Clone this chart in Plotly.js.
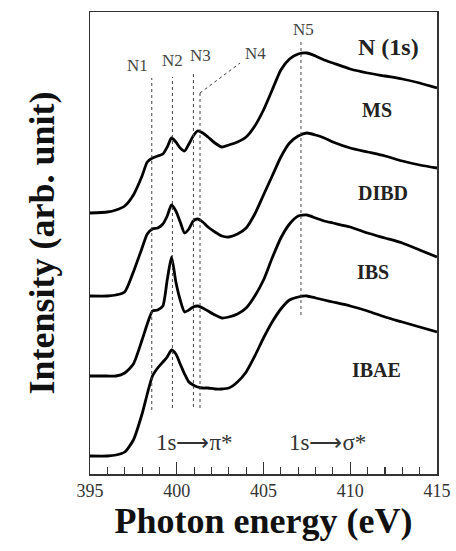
<!DOCTYPE html>
<html>
<head>
<meta charset="utf-8">
<script src="https://cdn.plot.ly/plotly-3.0.1.min.js"></script>
<style>
html,body{margin:0;padding:0;background:#fff;}
#chart{width:456px;height:551px;}
</style>
</head>
<body>
<div id="chart"></div>
<script>
// Photon energy grid (eV)
const energy = [395, 396, 396.5, 397, 397.5, 398, 398.3, 398.6, 398.9, 399.2, 399.45, 399.7, 399.95, 400.2, 400.45, 400.7, 400.95, 401.2, 401.5, 401.8, 402.2, 402.6, 403, 403.5, 404, 404.5, 405, 405.5, 406, 406.5, 407, 407.5, 408, 408.5, 409, 410, 411, 412, 413, 414, 415];

// Intensities (arb. unit), each relative to its own baseline
const intMS   = [0, 1, 3, 7, 18, 37, 51, 55, 57, 59, 66, 75, 71, 65, 62, 69, 77, 82, 80, 76, 70, 66, 68, 71, 76, 87, 103, 123, 143, 154, 159, 160, 157, 153, 150, 144, 140, 137, 134, 130, 125];
const intDIBD = [0, 0, 1, 4, 24, 48, 62, 67, 68, 72, 80, 91, 85, 74, 63, 67, 75, 77, 74, 69, 64, 60, 59, 62, 68, 82, 101, 120, 139, 153, 160, 163, 161, 158, 154, 148, 144, 140, 135, 131, 128];
const intIBS  = [0, 0, 0, 3, 12, 36, 52, 65, 66, 70, 96, 119, 94, 76, 64, 66, 69, 70, 68, 65, 61, 58, 59, 62, 68, 80, 96, 118, 138, 152, 160, 161, 158, 155, 153, 149, 143, 138, 133, 126, 119];
const intIBAE = [0, 0, 1, 4, 16, 42, 62, 80, 88, 94, 99, 106, 102, 92, 82, 74, 71, 69, 68, 68, 67, 67, 68, 74, 84, 100, 118, 134, 147, 156, 159, 160, 158, 156, 154, 150, 145, 139, 134, 129, 124];

const sampleNames = ["MS", "DIBD", "IBS", "IBAE"];
const sampleOffsets = [261, 178, 98, 18];
const sampleData = [intMS, intDIBD, intIBS, intIBAE];

// Feature positions (eV)
const featureNames = ["N1", "N2", "N3", "N4", "N5"];
const featureEnergy = [398.56, 399.75, 400.96, 401.34, 407.16];
const featureTop = [396, 397, 401, 381, 432];
const featureBottom = [64, 66, 67, 66, 159];

const serif = "Liberation Serif, Times New Roman, serif";

const traces = sampleData.map((d, i) => ({
  x: energy,
  y: d.map(v => v + sampleOffsets[i]),
  type: "scatter",
  mode: "lines",
  name: sampleNames[i],
  line: {color: "#000", width: 2.8, shape: "spline", smoothing: 0.6},
  hoverinfo: "skip"
}));

const shapes = featureEnergy.map((e, i) => ({
  type: "line", xref: "x", yref: "y",
  x0: e, x1: e, y0: featureBottom[i], y1: featureTop[i],
  line: {color: "#444", width: 1, dash: "3px,3px"}
}));
// N4 leader line
shapes.push({type: "line", xref: "x", yref: "y", x0: 401.34, y0: 381, x1: 403.65, y1: 411,
  line: {color: "#444", width: 1, dash: "3px,3px"}});

const labelPos = [[397.71, 409], [399.73, 414], [401.34, 419], [404.51, 421], [407.33, 445]];
const annotations = featureNames.map((n, i) => ({
  x: labelPos[i][0], y: labelPos[i][1], xref: "x", yref: "y", text: n, showarrow: false,
  font: {family: serif, size: 17, color: "#444"}
}));
annotations.push({x: 412.18, y: 427, xref: "x", yref: "y", text: "<b>N (1s)</b>", showarrow: false,
  font: {family: serif, size: 24, color: "#222"}});
const sampleLabelPos = [[411.54, 364], [411.89, 281], [411.31, 202], [411.54, 104]];
sampleNames.forEach((n, i) => annotations.push({
  x: sampleLabelPos[i][0], y: sampleLabelPos[i][1], xref: "x", yref: "y", text: "<b>" + n + "</b>",
  showarrow: false, font: {family: serif, size: 20, color: "#222"}
}));
annotations.push({x: 401.05, y: 32, xref: "x", yref: "y", text: "1s\u27F6\u03C0*", showarrow: false,
  font: {family: serif, size: 23, color: "#333"}});
annotations.push({x: 408.66, y: 32, xref: "x", yref: "y", text: "1s\u27F6\u03C3*", showarrow: false,
  font: {family: serif, size: 23, color: "#333"}});

const layout = {
  width: 456, height: 551,
  margin: {l: 90, r: 19, t: 12, b: 77},
  paper_bgcolor: "#fff", plot_bgcolor: "#fff",
  showlegend: false,
  xaxis: {
    range: [395, 415], tickmode: "linear", tick0: 395, dtick: 5,
    ticks: "inside", ticklen: 12, tickwidth: 1.3, tickcolor: "#333",
    minor: {tickmode: "linear", tick0: 395, dtick: 1, ticks: "inside", ticklen: 7, tickwidth: 1.1, tickcolor: "#333", showgrid: false},
    showline: true, linecolor: "#333", linewidth: 1.5, mirror: true,
    showgrid: false, zeroline: false,
    tickfont: {family: serif, size: 18, color: "#333"},
    title: {text: "<b>Photon energy (eV)</b>", font: {family: serif, size: 36, color: "#111"}, standoff: 0}
  },
  yaxis: {
    range: [0, 462], showticklabels: false, ticks: "",
    showline: true, linecolor: "#333", linewidth: 1.5, mirror: true,
    showgrid: false, zeroline: false,
    title: {text: "<b>Intensity (arb. unit)</b>", font: {family: serif, size: 36, color: "#111"}, standoff: 23}
  },
  shapes: shapes,
  annotations: annotations
};

Plotly.newPlot("chart", traces, layout, {displayModeBar: false, staticPlot: true});
</script>
</body>
</html>
